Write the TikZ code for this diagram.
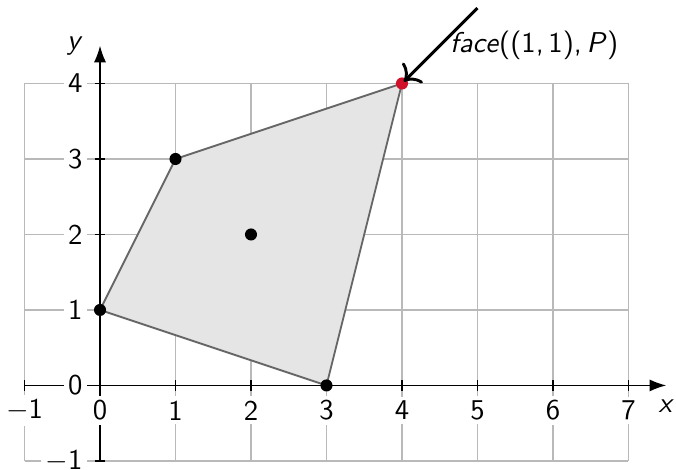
\documentclass[tikz,border=0pt]{standalone}
\usetikzlibrary{arrows.meta}
\definecolor{hitred}{RGB}{208,16,40}
\tikzset{
  gridln/.style = {gray!55, line width=0.45pt},
  axis/.style   = {-{Latex[length=2.2mm,width=1.6mm]}, line width=0.5pt},
  tck/.style    = {line width=0.7pt},
  tlbl/.style   = {fill=white, inner sep=1.6pt},
  pt/.style     = {circle, fill=black, inner sep=0pt, minimum size=1.6mm},
  hit/.style    = {pt, fill=hitred},
  poly/.style   = {draw=black!60, fill=gray!20, line width=0.7pt},
  fl/.style     = {-{To[length=1.8mm]}, line width=1.1pt, shorten >=1pt},
}

\begin{document}
\begin{tikzpicture}[font=\sffamily\fontsize{10.8pt}{13pt}\selectfont]
  \useasboundingbox (-1.325,-1.11) rectangle (7.63,5.106);
  \draw[gridln] (-1,-1) grid (7,4);
  % polygon P
  \coordinate (pa) at (0,1); \coordinate (pb) at (1,3);
  \coordinate (pc) at (4,4); \coordinate (pd) at (3,0);
  \filldraw[poly] (pa) -- (pb) -- (pc) -- (pd) -- cycle;
  % axes
  \coordinate (xs) at (-1,0);  \coordinate (xe) at (7.5,0);
  \coordinate (ys) at (0,-1);  \coordinate (ye) at (0,4.5);
  \draw[axis] (xs) -- (xe) node[below=2pt] (xl) {\textit{x}};
  \draw[axis] (ys) -- (ye) node[left=3pt] (yl) {\textit{y}};
  \foreach \i/\t in {-1/$-$1, 0/0, 1/1, 2/2, 3/3, 4/4, 5/5, 6/6, 7/7} {
    \draw[tck] (\i,-0.07) -- (\i,0.07);
    \node[tlbl] (x\i) at (\i,-0.33) {\t};
  }
  \foreach \j/\t in {-1/$-$1, 0/0, 1/1, 2/2, 3/3, 4/4} {
    \draw[tck] (-0.07,\j) -- (0.07,\j);
    \node[tlbl, anchor=east] (y\j) at (-0.17,\j) {\t};
  }
  % points
  \node[pt]  (a) at (pa) {};
  \node[pt]  (b) at (pb) {};
  \node[hit] (c) at (pc) {};
  \node[pt]  (d) at (pd) {};
  \node[pt]  (m) at (2,2) {};
  % pointer to the face
  \coordinate (src) at (5,5);
  \draw[fl] (src) -- node[right] (lbl) {\textit{face}((1,\,1),\,\textit{P})} (c.center);
\end{tikzpicture}
\end{document}
